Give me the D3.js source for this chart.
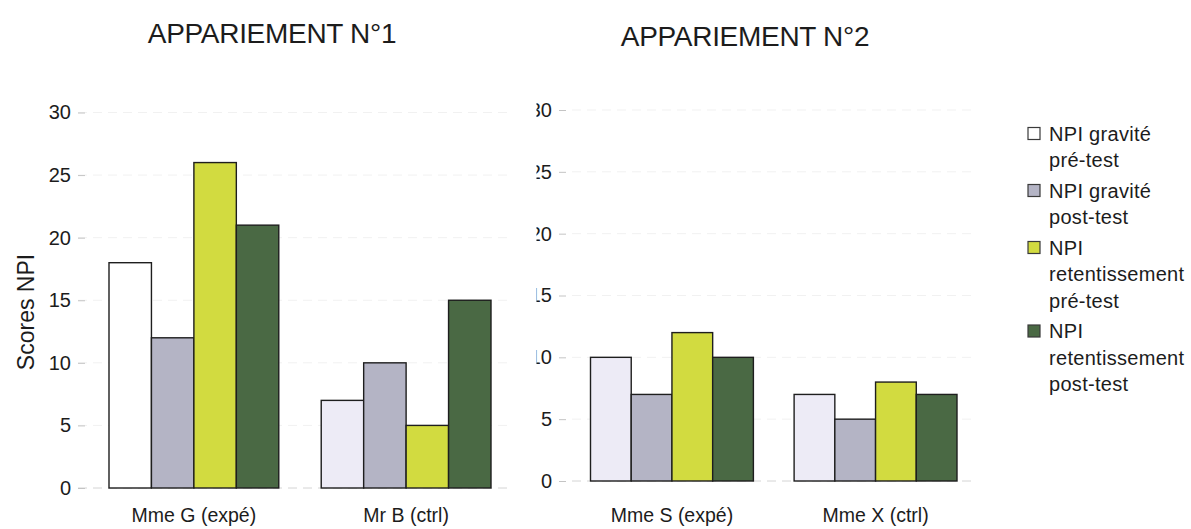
<!DOCTYPE html>
<html>
<head>
<meta charset="utf-8">
<script src="https://cdn.jsdelivr.net/npm/d3@7"></script>
<style>
  body { margin: 0; background: #fff; }
  svg { display: block; }
  text { font-family: "Liberation Sans", Arial, sans-serif; fill: #1c1c1c; }
</style>
</head>
<body>
<svg id="chart" width="1191" height="529"></svg>
<script>
// Series shown in both pairings
const seriesKeys = ["gravPre", "gravPost", "retPre", "retPost"];
const legendLabels = [
  ["NPI gravité", "pré-test"],
  ["NPI gravité", "post-test"],
  ["NPI", "retentissement", "pré-test"],
  ["NPI", "retentissement", "post-test"]
];

// Pairing 1
const pair1Title = "APPARIEMENT N°1";
const pair1Categories = ["Mme G (expé)", "Mr B (ctrl)"];
const pair1Values = [
  [18, 12, 26, 21],
  [7, 10, 5, 15]
];

// Pairing 2
const pair2Title = "APPARIEMENT N°2";
const pair2Categories = ["Mme S (expé)", "Mme X (ctrl)"];
const pair2Values = [
  [10, 7, 12, 10],
  [7, 5, 8, 7]
];

const yTickValues = [0, 5, 10, 15, 20, 25, 30];
const yAxisTitle = "Scores NPI";

// Styling
const seriesColors = ["#ffffff", "#b4b4c5", "#d2db40", "#4a6944"];
const paleFill = "#edebf6";          // pre-test gravité bars other than the first group
const barStroke = "#1e1e1e";

const svg = d3.select("#chart");

function drawPanel(opt) {
  const g = svg.append("g");

  const x0 = d3.scaleBand()
    .domain(opt.categories)
    .range([opt.xStart, opt.xEnd])
    .paddingInner(0.2)
    .paddingOuter(0);

  const x1 = d3.scaleBand()
    .domain(seriesKeys)
    .range([0, x0.bandwidth()])
    .padding(0);

  const y = d3.scaleLinear()
    .domain([0, 30])
    .range([opt.yZero, opt.yTop]);

  // faint dashed grid
  g.append("g")
    .selectAll("line")
    .data(yTickValues)
    .join("line")
    .attr("x1", opt.gridStart)
    .attr("x2", opt.gridEnd)
    .attr("y1", d => y(d))
    .attr("y2", d => y(d))
    .attr("stroke", d => d === 0 ? "#d4d4d4" : "#f1f1f1")
    .attr("stroke-width", 1)
    .attr("stroke-dasharray", "9,6");

  // y axis (labels + short tick marks, no domain line)
  const axis = d3.axisLeft(y)
    .tickValues(yTickValues)
    .tickSize(7)
    .tickPadding(opt.tickPad)
    .tickFormat(d3.format("d"));

  const axisG = g.append("g")
    .attr("transform", `translate(${opt.axisX},0)`)
    .call(axis);
  axisG.select(".domain").remove();
  axisG.selectAll(".tick line").attr("stroke", "#c4c4c4");
  axisG.selectAll(".tick text")
    .style("font-size", "20px")
    .attr("fill", "#1c1c1c");

  if (opt.clipLeft != null) {
    const id = "clip-" + opt.key;
    svg.append("clipPath").attr("id", id)
      .append("rect")
      .attr("x", opt.clipLeft - opt.axisX)
      .attr("y", 0)
      .attr("width", 400)
      .attr("height", 529);
    axisG.attr("clip-path", `url(#${id})`);
  }

  // bars
  const groups = g.append("g")
    .selectAll("g")
    .data(opt.categories.map((c, i) => ({ cat: c, idx: i, vals: opt.values[i] })))
    .join("g")
    .attr("transform", d => `translate(${x0(d.cat)},0)`);

  groups.selectAll("rect")
    .data(d => d.vals.map((v, j) => ({ key: seriesKeys[j], v, j, firstGroup: opt.whiteGroup === d.idx })))
    .join("rect")
    .attr("x", d => x1(d.key))
    .attr("y", d => y(d.v))
    .attr("width", x1.bandwidth())
    .attr("height", d => y(0) - y(d.v))
    .attr("fill", d => d.j === 0 && !d.firstGroup ? paleFill : seriesColors[d.j])
    .attr("stroke", barStroke)
    .attr("stroke-width", 1.4);

  // category labels
  g.append("g")
    .selectAll("text")
    .data(opt.categories)
    .join("text")
    .attr("x", d => x0(d) + x0.bandwidth() / 2)
    .attr("y", opt.catY)
    .attr("text-anchor", "middle")
    .style("font-size", "19.5px")
    .text(d => d);

  // panel title
  g.append("text")
    .attr("x", opt.titleX)
    .attr("y", opt.titleY)
    .attr("text-anchor", "middle")
    .style("font-size", "28px")
    .style("letter-spacing", "-0.3px")
    .text(opt.title);
}

drawPanel({
  key: "p1",
  title: pair1Title,
  categories: pair1Categories,
  values: pair1Values,
  whiteGroup: 0,
  xStart: 109, xEnd: 491,
  yZero: 488, yTop: 112.5,
  axisX: 85, tickPad: 7,
  gridStart: 78, gridEnd: 512,
  catY: 522,
  titleX: 272, titleY: 43
});

drawPanel({
  key: "p2",
  title: pair2Title,
  categories: pair2Categories,
  values: pair2Values,
  whiteGroup: -1,
  xStart: 590.5, xEnd: 957,
  yZero: 481, yTop: 110,
  axisX: 566, tickPad: 7,
  clipLeft: 536.5,
  gridStart: 572, gridEnd: 976,
  catY: 522,
  titleX: 745, titleY: 46
});

// y axis title
svg.append("text")
  .attr("transform", "translate(34,312) rotate(-90)")
  .attr("text-anchor", "middle")
  .style("font-size", "23px")
  .text(yAxisTitle);

// legend
const legend = svg.append("g").attr("transform", "translate(1028,0)");
const lineH = 26.5, entryGap = 4, firstBaseline = 140.5;
let yCursor = firstBaseline;
legendLabels.forEach((lines, i) => {
  const item = legend.append("g");
  item.append("rect")
    .attr("x", 0)
    .attr("y", yCursor - 13)
    .attr("width", 12)
    .attr("height", 12)
    .attr("fill", seriesColors[i])
    .attr("stroke", "#3a3a3a")
    .attr("stroke-width", 1.2);
  lines.forEach((t, k) => {
    item.append("text")
      .attr("x", 21)
      .attr("y", yCursor + k * lineH)
      .style("font-size", "20px")
      .style("letter-spacing", "0.3px")
      .text(t);
  });
  yCursor += lines.length * lineH + entryGap;
});
</script>
</body>
</html>
